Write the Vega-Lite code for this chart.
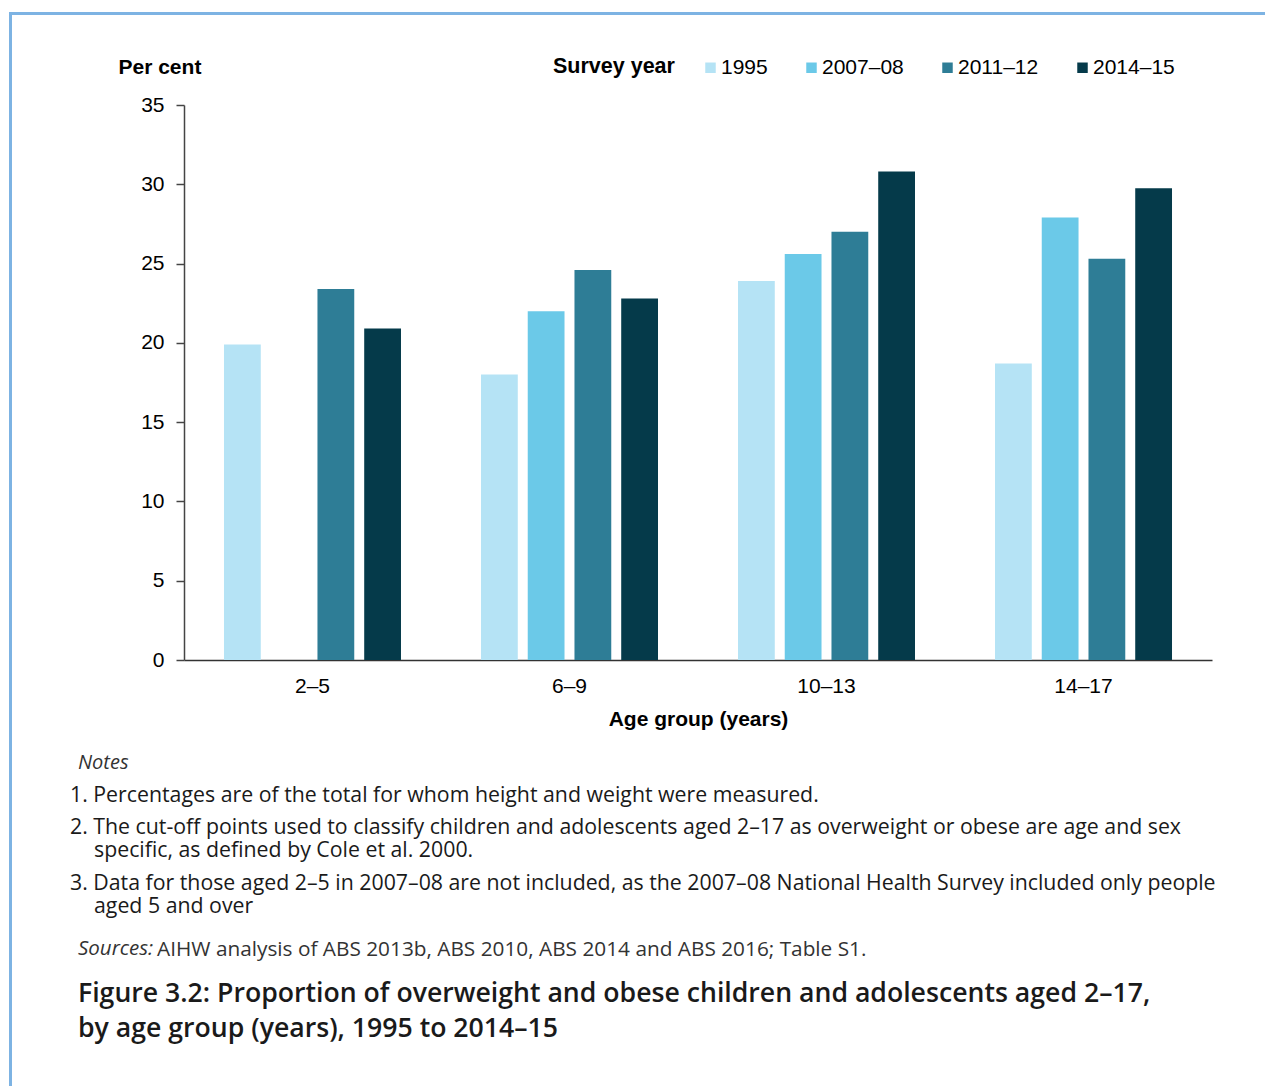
{
  "$schema": "https://vega.github.io/schema/vega-lite/v6.json",
  "padding": {"left": 9, "top": 12, "right": 0, "bottom": 0},
  "background": "white",
  "bounds": "flush",
  "spacing": 0,
  "config": {
    "view": {"stroke": null},
    "title": {
      "orient": "bottom",
      "anchor": "start",
      "frame": "group",
      "offset": 0,
      "baseline": "top",
      "font": "Open Sans",
      "fontSize": 21.3,
      "fontWeight": "normal",
      "color": "#1a1a1a",
      "dx": -114
    }
  },
  "vconcat": [
    {
      "width": 1256, "height": 3,
      "view": {"fill": "#7DB3E3", "stroke": null},
      "data": {"values": []},
      "mark": "text",
      "encoding": {}
    },
    {
      "bounds": "flush",
      "spacing": 172,
      "hconcat": [
        {
          "width": 3, "height": 1071,
          "view": {"fill": "#7DB3E3", "stroke": null},
          "data": {"values": []},
          "mark": "text",
          "encoding": {}
        },
        {
          "bounds": "flush",
          "spacing": 0,
          "vconcat": [
            {"width": 1, "height": 90, "data": {"values": []}, "mark": "text", "encoding": {}},
            {
              "width": 1028,
              "height": 555,
              "data": {"values": [
                {"age": "2–5", "year": "1995", "value": 19.9},
                {"age": "2–5", "year": "2011–12", "value": 23.4},
                {"age": "2–5", "year": "2014–15", "value": 20.9},
                {"age": "6–9", "year": "1995", "value": 18.0},
                {"age": "6–9", "year": "2007–08", "value": 22.0},
                {"age": "6–9", "year": "2011–12", "value": 24.6},
                {"age": "6–9", "year": "2014–15", "value": 22.8},
                {"age": "10–13", "year": "1995", "value": 23.9},
                {"age": "10–13", "year": "2007–08", "value": 25.6},
                {"age": "10–13", "year": "2011–12", "value": 27.0},
                {"age": "10–13", "year": "2014–15", "value": 30.8},
                {"age": "14–17", "year": "1995", "value": 18.7},
                {"age": "14–17", "year": "2007–08", "value": 27.9},
                {"age": "14–17", "year": "2011–12", "value": 25.3},
                {"age": "14–17", "year": "2014–15", "value": 29.75}
              ]},
              "mark": {"type": "bar"},
              "encoding": {
                "x": {
                  "field": "age", "type": "nominal",
                  "sort": ["2–5", "6–9", "10–13", "14–17"],
                  "scale": {"paddingInner": 0.3113, "paddingOuter": 0.1556},
                  "axis": {
                    "title": "Age group (years)",
                    "labelAngle": 0,
                    "ticks": false,
                    "domainColor": "#333333",
                    "domainWidth": 1.5,
                    "labelPadding": 15,
                    "labelFont": "Liberation Sans",
                    "labelFontSize": 21,
                    "labelColor": "#000000",
                    "titlePadding": 12,
                    "titleFont": "Liberation Sans",
                    "titleFontSize": 21,
                    "titleFontWeight": "bold",
                    "titleColor": "#000000"
                  }
                },
                "xOffset": {
                  "field": "year", "type": "nominal",
                  "sort": ["1995", "2007–08", "2011–12", "2014–15"],
                  "scale": {"paddingInner": 0.213, "paddingOuter": 0}
                },
                "y": {
                  "field": "value", "type": "quantitative",
                  "scale": {"domain": [0, 35], "nice": false},
                  "axis": {
                    "title": "Per cent",
                    "values": [0, 5, 10, 15, 20, 25, 30, 35],
                    "grid": false,
                    "domainColor": "#444444",
                    "domainWidth": 1.5,
                    "tickColor": "#444444",
                    "tickWidth": 1.5,
                    "tickSize": 8,
                    "labelPadding": 12,
                    "labelFont": "Liberation Sans",
                    "labelFontSize": 21,
                    "labelColor": "#000000",
                    "titleAngle": 0,
                    "titleX": -66,
                    "titleY": -32,
                    "titleAlign": "left",
                    "titleBaseline": "alphabetic",
                    "titleFont": "Liberation Sans",
                    "titleFontSize": 21,
                    "titleFontWeight": "bold",
                    "titleColor": "#000000"
                  }
                },
                "color": {
                  "field": "year", "type": "nominal",
                  "scale": {
                    "domain": ["1995", "2007–08", "2011–12", "2014–15"],
                    "range": ["#B5E3F5", "#6BC9E8", "#2E7D96", "#053A4A"]
                  },
                  "legend": {
                    "title": "Survey year",
                    "orient": "none",
                    "legendX": 544,
                    "legendY": 45,
                    "direction": "horizontal",
                    "titleOrient": "left",
                    "titlePadding": 25,
                    "titleFont": "Liberation Sans",
                    "titleFontSize": 21.5,
                    "titleFontWeight": "bold",
                    "titleColor": "#000000",
                    "symbolType": "square",
                    "symbolSize": 110,
                    "symbolStrokeWidth": 0,
                    "symbolOpacity": 1,
                    "labelFont": "Liberation Sans",
                    "labelFontSize": 21,
                    "labelColor": "#000000",
                    "labelOffset": 0,
                    "columnPadding": 33,
                    "encode": {
                      "symbols": {
                        "update": {
                          "fill": [
                            {"test": "datum.value === '2014–15'", "value": "#223319"},
                            {"scale": "color", "field": "value"}
                          ]
                        }
                      }
                    }
                  }
                }
              }
            },
            {
              "width": 1, "height": 89.2,
              "data": {"values": []}, "mark": "text", "encoding": {},
              "title": {"text": "Notes", "fontStyle": "italic", "fontSize": 20, "dx": -106, "color": "#333333"}
            },
            {
              "width": 1, "height": 31.3,
              "data": {"values": []}, "mark": "text", "encoding": {},
              "title": {"text": "1. Percentages are of the total for whom height and weight were measured."}
            },
            {
              "width": 1, "height": 31,
              "data": {"values": []}, "mark": "text", "encoding": {},
              "title": {"text": "2. The cut-off points used to classify children and adolescents aged 2–17 as overweight or obese are age and sex"}
            },
            {
              "width": 1, "height": 23,
              "data": {"values": []}, "mark": "text", "encoding": {},
              "title": {"text": "specific, as defined by Cole et al. 2000.", "dx": -90}
            },
            {
              "width": 1, "height": 33,
              "data": {"values": []}, "mark": "text", "encoding": {},
              "title": {"text": "3. Data for those aged 2–5 in 2007–08 are not included, as the 2007–08 National Health Survey included only people"}
            },
            {
              "width": 1, "height": 23,
              "data": {"values": []}, "mark": "text", "encoding": {},
              "title": {"text": "aged 5 and over", "dx": -90}
            },
            {
              "width": 1, "height": 43.3,
              "data": {"values": []}, "mark": "text", "encoding": {},
              "title": {"text": "Sources:", "fontStyle": "italic", "fontSize": 20.5, "dx": -106, "color": "#333333"}
            },
            {
              "width": 1, "height": 0.01,
              "data": {"values": []}, "mark": "text", "encoding": {},
              "title": {"text": "AIHW analysis of ABS 2013b, ABS 2010, ABS 2014 and ABS 2016; Table S1.", "fontSize": 20.8, "dx": -27, "color": "#333333"}
            },
            {
              "width": 1, "height": 39.5,
              "data": {"values": []}, "mark": "text", "encoding": {},
              "title": {
                "text": ["Figure 3.2: Proportion of overweight and obese children and adolescents aged 2–17,", "by age group (years), 1995 to 2014–15"],
                "fontSize": 26.65,
                "fontWeight": 600,
                "lineHeight": 35,
                "dx": -106,
                "color": "#1a1a1a"
              }
            }
          ]
        }
      ]
    }
  ]
}
